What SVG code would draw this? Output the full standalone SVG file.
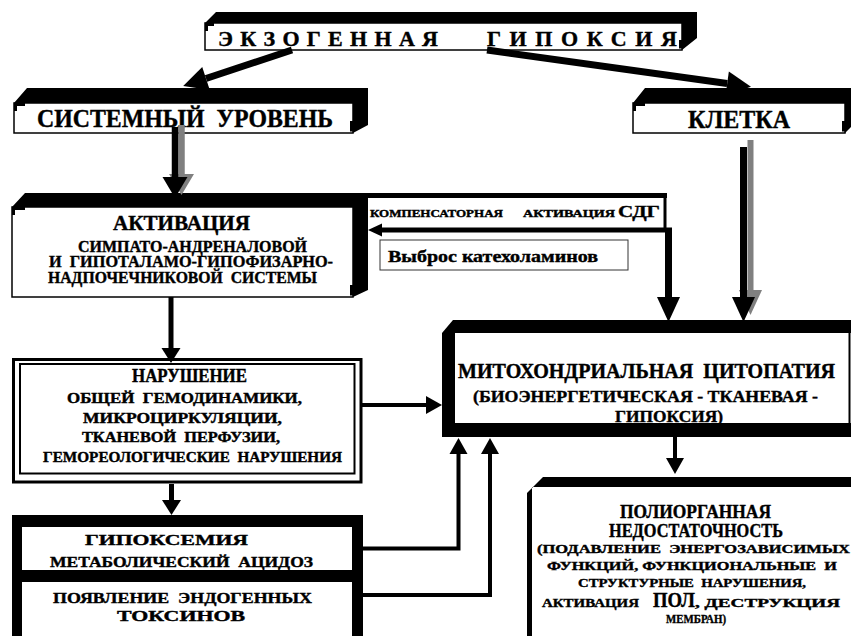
<svg xmlns="http://www.w3.org/2000/svg" width="851" height="636" viewBox="0 0 851 636">
<style>
text { font-family: "Liberation Serif", "Times New Roman", serif; font-weight: bold; fill: #000; stroke: #000; stroke-width: 0.4; white-space: pre; }
.blk { fill: #000; }
.front { fill: #fff; stroke: #000; stroke-width: 1.5; }
.tick { fill: none; stroke: #000; stroke-width: 3; }
.conn { fill: none; stroke: #000; }
.gray { stroke: #808080; }
</style>
<defs>
<marker id="ahL" markerUnits="userSpaceOnUse" orient="auto" refX="0" refY="0" markerWidth="30" markerHeight="30" overflow="visible"><path d="M0,-12 L24,0 L0,12 Z" fill="#000"/></marker>
<marker id="ahD" markerUnits="userSpaceOnUse" orient="auto" refX="0" refY="0" markerWidth="30" markerHeight="30" overflow="visible"><path d="M0,-12.5 L21,0 L0,12.5 Z" fill="#000"/></marker>
<marker id="ahDg" markerUnits="userSpaceOnUse" orient="auto" refX="0" refY="0" markerWidth="30" markerHeight="30" overflow="visible"><path d="M0,-12.5 L21,0 L0,12.5 Z" fill="#808080"/></marker>
<marker id="ahK" markerUnits="userSpaceOnUse" orient="auto" refX="0" refY="0" markerWidth="30" markerHeight="30" overflow="visible"><path d="M0,-11.5 L25,0 L0,11.5 Z" fill="#000"/></marker>
<marker id="ahKg" markerUnits="userSpaceOnUse" orient="auto" refX="0" refY="0" markerWidth="30" markerHeight="30" overflow="visible"><path d="M0,-11.5 L25,0 L0,11.5 Z" fill="#808080"/></marker>
<marker id="ahM" markerUnits="userSpaceOnUse" orient="auto" refX="0" refY="0" markerWidth="30" markerHeight="30" overflow="visible"><path d="M0,-9.5 L15,0 L0,9.5 Z" fill="#000"/></marker>
<marker id="ahS" markerUnits="userSpaceOnUse" orient="auto" refX="0" refY="0" markerWidth="30" markerHeight="30" overflow="visible"><path d="M0,-9 L16,0 L0,9 Z" fill="#000"/></marker>
<marker id="ahT" markerUnits="userSpaceOnUse" orient="auto" refX="0" refY="0" markerWidth="30" markerHeight="30" overflow="visible"><path d="M0,-6.5 L14,0 L0,6.5 Z" fill="#000"/></marker>
</defs>
<rect x="0" y="0" width="851" height="636" fill="#fff"/>

<g id="title">
<polygon class="blk" points="205,23 216,12 697,12 697,38 682,50 682,23"/>
<rect class="front" x="205" y="23" width="477" height="27"/>
<path class="tick" d="M206.5,31 V24.5 H214 M680.5,40 V48.5"/>
<text x="218" y="45.5" font-size="22" textLength="220" lengthAdjust="spacing">ЭКЗОГЕННАЯ</text>
<text x="487" y="45.5" font-size="22" textLength="190" lengthAdjust="spacing">ГИПОКСИЯ</text>
</g>

<g id="systemic">
<polygon class="blk" points="14,103 27,88 368,88 368,125 353,133 353,103"/>
<rect class="front" x="14" y="103" width="339" height="30"/>
<path class="tick" d="M15.5,111 V104.5 H25 M351.5,121 V131.5"/>
<text x="37" y="127" font-size="25" textLength="296" lengthAdjust="spacingAndGlyphs">СИСТЕМНЫЙ  УРОВЕНЬ</text>
</g>

<g id="cell">
<polygon class="blk" points="633,103 645,88 851,88 851,127 845,133 845,103"/>
<rect class="front" x="633" y="103" width="212" height="30"/>
<path class="tick" d="M634.5,111 V104.5 H645 M843.5,121 V131.5"/>
<text x="688" y="128" font-size="25" textLength="102" lengthAdjust="spacingAndGlyphs">КЛЕТКА</text>
</g>

<g id="activation">
<polygon class="blk" points="12,207 25,193 368,193 368,290 353,297 353,207"/>
<rect class="front" x="12" y="207" width="341" height="90"/>
<path class="tick" d="M13.5,215 V208.5 H25 M351.5,285 V295.5"/>
<text x="113" y="230" font-size="20" textLength="137" lengthAdjust="spacingAndGlyphs">АКТИВАЦИЯ</text>
<text x="78" y="251.7" font-size="16" textLength="229" lengthAdjust="spacingAndGlyphs">СИМПАТО-АНДРЕНАЛОВОЙ</text>
<text x="49" y="267.3" font-size="16" textLength="284" lengthAdjust="spacingAndGlyphs">И  ГИПОТАЛАМО-ГИПОФИЗАРНО-</text>
<text x="48" y="283.3" font-size="16" textLength="269" lengthAdjust="spacingAndGlyphs">НАДПОЧЕЧНИКОВОЙ  СИСТЕМЫ</text>
</g>

<g id="sdg-label">
<line x1="665" y1="195" x2="665" y2="230" stroke="#000" stroke-width="3"/>
<text x="370" y="217.3" font-size="11" textLength="133" lengthAdjust="spacingAndGlyphs">КОМПЕНСАТОРНАЯ</text>
<text x="523" y="217.3" font-size="11" textLength="92" lengthAdjust="spacingAndGlyphs">АКТИВАЦИЯ</text>
<text x="618" y="217.3" font-size="17" textLength="42" lengthAdjust="spacingAndGlyphs">СДГ</text>
</g>

<g id="catecholamines">
<rect x="380" y="240" width="248" height="30" fill="#fff" stroke="#333" stroke-width="1"/>
<text x="388" y="261.7" font-size="17" textLength="210" lengthAdjust="spacingAndGlyphs">Выброс катехоламинов</text>
</g>

<g id="violation">
<rect x="13.5" y="359.5" width="347.5" height="122.5" fill="#fff" stroke="#000" stroke-width="3"/>
<rect x="20" y="364" width="334.5" height="109.5" fill="none" stroke="#000" stroke-width="2"/>
<text x="132" y="381.7" font-size="18" textLength="115" lengthAdjust="spacingAndGlyphs">НАРУШЕНИЕ</text>
<text x="67" y="403.3" font-size="14.5" textLength="235" lengthAdjust="spacingAndGlyphs">ОБЩЕЙ  ГЕМОДИНАМИКИ,</text>
<text x="83" y="423.3" font-size="14.5" textLength="199" lengthAdjust="spacingAndGlyphs">МИКРОЦИРКУЛЯЦИИ,</text>
<text x="82" y="441.7" font-size="14.5" textLength="198" lengthAdjust="spacingAndGlyphs">ТКАНЕВОЙ  ПЕРФУЗИИ,</text>
<text x="43" y="461.7" font-size="14.5" textLength="299" lengthAdjust="spacingAndGlyphs">ГЕМОРЕОЛОГИЧЕСКИЕ  НАРУШЕНИЯ</text>
</g>

<g id="hypoxemia">
<rect class="blk" x="12" y="515" width="351" height="67"/>
<rect x="22" y="527" width="330" height="43" fill="#fff"/>
<text x="85" y="545" font-size="15.5" textLength="163" lengthAdjust="spacingAndGlyphs">ГИПОКСЕМИЯ</text>
<text x="50" y="567" font-size="15.5" textLength="263" lengthAdjust="spacingAndGlyphs">МЕТАБОЛИЧЕСКИЙ  АЦИДОЗ</text>
</g>

<g id="toxins">
<rect class="blk" x="12" y="570" width="351" height="66"/>
<rect x="22" y="582" width="330" height="54" fill="#fff"/>
<text x="53" y="602.7" font-size="15.5" textLength="259" lengthAdjust="spacingAndGlyphs">ПОЯВЛЕНИЕ  ЭНДОГЕННЫХ</text>
<text x="117" y="620.7" font-size="15.5" textLength="128" lengthAdjust="spacingAndGlyphs">ТОКСИНОВ</text>
</g>

<g id="mito">
<polygon class="blk" points="442,333 453,320 851,320 851,333"/>
<rect class="blk" x="442" y="333" width="13" height="104"/>
<rect class="blk" x="442" y="423" width="409" height="14"/>
<line x1="849.5" y1="333" x2="849.5" y2="423" stroke="#000" stroke-width="2"/>
<text x="458" y="378.3" font-size="20" textLength="377" lengthAdjust="spacingAndGlyphs">МИТОХОНДРИАЛЬНАЯ  ЦИТОПАТИЯ</text>
<text x="473" y="401.7" font-size="17" textLength="345" lengthAdjust="spacingAndGlyphs">(БИОЭНЕРГЕТИЧЕСКАЯ - ТКАНЕВАЯ -</text>
<text x="615" y="421.7" font-size="17" textLength="108" lengthAdjust="spacingAndGlyphs">ГИПОКСИЯ)</text>
</g>

<g id="polyorgan">
<polygon class="blk" points="527,493 543,477 851,477 851,487 532,487 532,636 527,636"/>
<text x="620" y="518" font-size="19" textLength="151" lengthAdjust="spacingAndGlyphs">ПОЛИОРГАННАЯ</text>
<text x="609" y="537" font-size="19" textLength="174" lengthAdjust="spacingAndGlyphs">НЕДОСТАТОЧНОСТЬ</text>
<text x="537" y="553.3" font-size="13" textLength="313" lengthAdjust="spacingAndGlyphs">(ПОДАВЛЕНИЕ  ЭНЕРГОЗАВИСИМЫХ</text>
<text x="547" y="570" font-size="13" textLength="290" lengthAdjust="spacingAndGlyphs">ФУНКЦИЙ, ФУНКЦИОНАЛЬНЫЕ  И</text>
<text x="578" y="586.7" font-size="13" textLength="228" lengthAdjust="spacingAndGlyphs">СТРУКТУРНЫЕ  НАРУШЕНИЯ,</text>
<text x="542" y="606.7" font-size="13" textLength="97" lengthAdjust="spacingAndGlyphs">АКТИВАЦИЯ</text>
<text x="653" y="606.7" font-size="20" textLength="42" lengthAdjust="spacingAndGlyphs">ПОЛ</text>
<text x="695" y="606.7" font-size="13" textLength="145" lengthAdjust="spacingAndGlyphs">, ДЕСТРУКЦИЯ</text>
<text x="666" y="623.3" font-size="13" textLength="60" lengthAdjust="spacingAndGlyphs">МЕМБРАН)</text>
</g>

<g id="connectors">
<path class="conn" stroke-width="7" d="M292,50 L206,78.5" marker-end="url(#ahL)"/>
<path class="conn" stroke-width="7" d="M487,50 L727.2,83.5" marker-end="url(#ahL)"/>
<path class="conn gray" stroke-width="6.5" d="M181.5,125 V174" marker-end="url(#ahDg)"/>
<path class="conn" stroke-width="6.5" d="M175,127 V177" marker-end="url(#ahD)"/>
<path class="conn" stroke-width="5" d="M171,297 V348" marker-end="url(#ahM)"/>
<path class="conn" stroke-width="5" d="M171.5,484 V500" marker-end="url(#ahM)"/>
<path class="conn" stroke-width="4" d="M362,405 H426" marker-end="url(#ahS)"/>
<path class="conn" stroke-width="4" d="M363,548.5 H458.5 V454" marker-end="url(#ahS)"/>
<path class="conn" stroke-width="4" d="M363,595 H490 V454" marker-end="url(#ahS)"/>
<path class="conn" stroke-width="4" d="M675,437 V458" marker-end="url(#ahS)"/>
<path class="conn gray" stroke-width="6" d="M750.5,140 V290" marker-end="url(#ahKg)"/>
<path class="conn" stroke-width="7" d="M743.5,147 V297" marker-end="url(#ahK)"/>
<path class="conn" stroke-width="5" d="M360,195.5 H667"/>
<path class="conn" stroke-width="7" d="M668.5,228 V297" marker-end="url(#ahK)"/>
<path class="conn" stroke-width="5" d="M672,230 H382" marker-end="url(#ahT)"/>
</g>
</svg>
